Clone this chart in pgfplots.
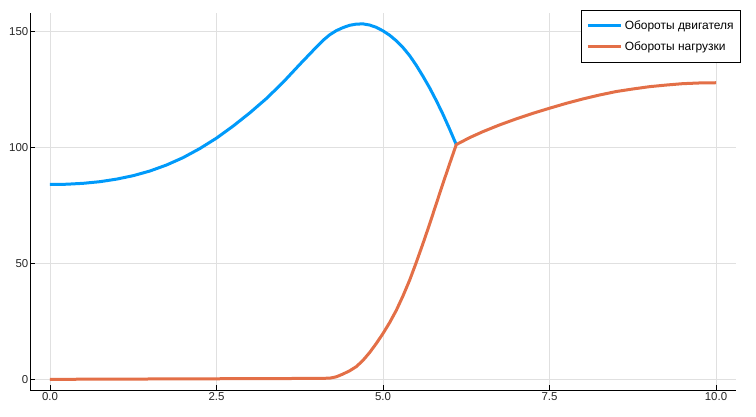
\documentclass[border=0pt]{standalone}
\usepackage{pgfplots}
\pgfplotsset{compat=1.18}
\usepackage{fontspec}
\setmainfont{Liberation Sans}
\definecolor{jblue}{RGB}{0,154,250}
\definecolor{jorange}{RGB}{227,111,71}
\begin{document}
\begin{tikzpicture}
\path[use as bounding box] (-30bp,-27bp) rectangle (726bp,390bp);
\begin{axis}[
  scale only axis, width=706bp, height=377bp,
  xmin=-0.3, xmax=10.3, ymin=-4.6, ymax=158.1,
  axis x line=bottom, axis y line=left,
  axis line style={-, line width=0.9bp, black},
  xtick={0,2.5,5,7.5,10}, ytick={0,50,100,150},
  scaled ticks=false,
  x tick label style={/pgf/number format/.cd, fixed, fixed zerofill, precision=1, /tikz/.cd},
  /pgf/number format/assume math mode=true,
  tick label style={font=\fontsize{11.5}{13}\selectfont, text=black!85},
  yticklabel style={inner xsep=1.5bp},
  xticklabel style={inner ysep=2.5bp},
  tick align=inside, major tick length=5bp, tick style={black, line width=0.8bp},
  grid=major, grid style={black!12, line width=0.8bp},
  legend style={at={(1.007,1.009)}, anchor=north east, draw=black, line width=0.8bp,
    fill=white, font=\fontsize{12}{14}\selectfont, inner xsep=4.5bp, inner ysep=9.5bp,
    row sep=8.5bp, cells={anchor=west}, nodes={inner xsep=2.5bp, inner ysep=1bp}},
  legend image code/.code={\draw[#1] (0bp,0bp) -- (33bp,0bp);},
]
\addplot[jblue, line width=3bp, line join=round] coordinates {
(0.0,84.1) (0.25,84.2) (0.5,84.6) (0.75,85.3) (1.0,86.4) (1.25,87.9) (1.5,89.9)
(1.75,92.5) (2.0,95.7) (2.25,99.6) (2.5,104.1) (2.75,109.3) (3.0,115.0)
(3.25,121.2) (3.5,128.2) (3.75,135.9) (4.0,143.4) (4.1,146.3) (4.2,148.7) (4.3,150.5)
(4.4,151.8) (4.5,152.8) (4.6,153.3) (4.7,153.4) (4.8,152.9) (4.9,151.9) (5.0,150.4)
(5.1,148.5) (5.2,146.1) (5.3,143.2) (5.4,139.7) (5.5,135.5) (5.6,130.8) (5.7,125.8)
(5.8,120.3) (5.9,114.4) (6.0,108.0) (6.1,101.3)
};
\addlegendentry{Обороты двигателя}
\addplot[jorange, line width=3bp, line join=round] coordinates {
(0.0,0.0) (1.0,0.1) (2.0,0.2) (3.0,0.3) (4.0,0.4) (4.2,0.5) (4.3,1.1) (4.4,2.3)
(4.5,3.7) (4.6,5.5) (4.7,8.2) (4.8,11.6) (4.9,15.5) (5.0,19.8) (5.1,24.5) (5.2,29.8)
(5.3,36.0) (5.4,42.8) (5.5,50.5) (5.6,58.6) (5.7,67.0) (5.8,75.8) (5.9,84.5)
(6.0,93.0) (6.1,101.3) (6.3,104.3) (6.5,106.9) (6.75,109.8) (7.0,112.4) (7.25,114.8)
(7.5,117.0) (7.75,119.1) (8.0,121.0) (8.25,122.7) (8.5,124.2) (8.75,125.3)
(9.0,126.3) (9.25,127.0) (9.5,127.6) (9.75,127.9) (10.0,128.0)
};
\addlegendentry{Обороты нагрузки}
\end{axis}
\end{tikzpicture}
\end{document}
